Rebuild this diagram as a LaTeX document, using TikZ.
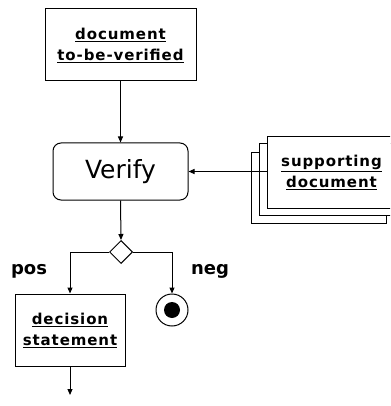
\documentclass[tikz,border=0pt]{standalone}
\usepackage{fontspec}
\setmainfont{DejaVu Sans}
\newfontfamily\labfont[LetterSpace=6]{DejaVu Sans Bold}
\usetikzlibrary{arrows.meta,shapes.geometric}
\tikzset{
  obj/.style={draw, rectangle, line width=1pt, fill=white, align=center,
    font=\fontsize{15}{21}\labfont, inner sep=0pt},
  act/.style={draw, rectangle, rounded corners=8pt, line width=1pt, align=center,
    font=\fontsize{25}{28}\selectfont, inner sep=0pt, minimum width=135pt, minimum height=57pt},
  flow/.style={line width=1pt, -{Triangle[length=6pt,width=5pt]}},
  guard/.style={font=\fontsize{18}{22}\selectfont\bfseries, inner sep=0pt},
  dec/.style={draw, diamond, line width=1pt, inner sep=0pt, minimum width=23pt, minimum height=23pt}
}
\begin{document}
\begin{tikzpicture}[x=1pt,y=-1pt]
\useasboundingbox (0,0) rectangle (390,406);
\clip (0,0) rectangle (390,406);
\node[obj, minimum width=151pt, minimum height=72pt] (doc) at (120.5,45)
  {\underline{document}\\\underline{to-be-verified}};
\node[act] (verify) at (120.5,171.5) {Verify};
\node[obj, minimum width=135pt, minimum height=71pt] (back) at (318.5,187.5) {};
\node[obj, minimum width=135pt, minimum height=71pt] (mid) at (326.5,179.5) {};
\node[obj, minimum width=129pt, minimum height=71pt] (supp) at (331.5,172.5)
  {\underline{supporting}\\\underline{document}};
\node[dec] (d) at (121,252) {};
\node[circle, draw, line width=1pt, minimum size=32pt, inner sep=0pt] (final) at (172,310) {};
\node[circle, fill=black, minimum size=16pt, inner sep=0pt] (finaldot) at (172,310) {};
\node[obj, minimum width=110pt, minimum height=72pt] (decision) at (70,330)
  {\underline{decision}\\\underline{statement}};
\node[guard] (pos) at (29,271) {pos};
\node[guard] (neg) at (210,271) {neg};
\coordinate (out) at (70,395);
\draw[flow] (doc.south) -- (verify.north);
\draw[flow] (supp.west |- verify.east) -- (verify.east);
\draw[flow] (verify.south) -- (d.north);
\draw[flow] (d.west) -| (decision.north);
\draw[flow] (d.east) -| (final.north);
\draw[flow] (decision.south) -- (out);
\end{tikzpicture}
\end{document}
